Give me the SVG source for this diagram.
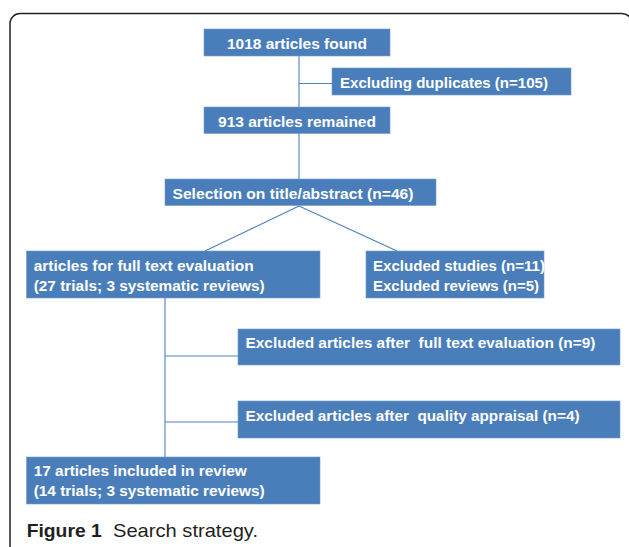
<svg xmlns="http://www.w3.org/2000/svg" width="629" height="547" viewBox="0 0 629 547">
<style>
.box{fill:#4a7ebb;stroke:#6f9bd0;stroke-width:0.6}
.t{font-family:"Liberation Sans",Arial,sans-serif;font-weight:bold;font-size:15.5px;fill:#ffffff;white-space:pre}
.c{stroke:#4f81bd;stroke-width:1.1;fill:none}
.cap{font-family:"Liberation Sans",Arial,sans-serif;font-size:19px;fill:#231f20}
</style>
<rect x="10" y="13.5" width="622" height="560" rx="10" fill="#ffffff" stroke="#222222" stroke-width="1.5"/>
<g id="connectors">
<line class="c" x1="299" y1="56" x2="299" y2="107"/>
<line class="c" x1="299" y1="83.5" x2="332" y2="83.5"/>
<line class="c" x1="299" y1="133" x2="299" y2="179"/>
<line class="c" x1="299" y1="206" x2="205" y2="251"/>
<line class="c" x1="299" y1="206" x2="397" y2="251"/>
<line class="c" x1="165" y1="298" x2="165" y2="457"/>
<line class="c" x1="165" y1="356" x2="238" y2="356"/>
<line class="c" x1="165" y1="422" x2="238" y2="422"/>
</g>
<g id="n1"><rect class="box" x="204" y="29" width="186" height="27"/><text class="t" x="227" y="49" textLength="140" lengthAdjust="spacingAndGlyphs">1018 articles found</text></g>
<g id="n2"><rect class="box" x="332" y="68" width="239" height="27"/><text class="t" x="340" y="88" textLength="208" lengthAdjust="spacingAndGlyphs">Excluding duplicates (n=105)</text></g>
<g id="n3"><rect class="box" x="204" y="107" width="186" height="26.5"/><text class="t" x="218" y="126.5" textLength="158" lengthAdjust="spacingAndGlyphs">913 articles remained</text></g>
<g id="n4"><rect class="box" x="165" y="179" width="271" height="26.5"/><text class="t" x="172.5" y="199" textLength="241" lengthAdjust="spacingAndGlyphs">Selection on title/abstract (n=46)</text></g>
<g id="n5"><rect class="box" x="26.5" y="251" width="293.5" height="47"/><text class="t" x="33.7" y="270.5" textLength="220" lengthAdjust="spacingAndGlyphs">articles for full text evaluation</text><text class="t" x="33.7" y="290.5" textLength="231" lengthAdjust="spacingAndGlyphs">(27 trials; 3 systematic reviews)</text></g>
<g id="n6"><rect class="box" x="366" y="251" width="178" height="47"/><text class="t" x="373" y="270.5" textLength="172" lengthAdjust="spacingAndGlyphs">Excluded studies (n=11)</text><text class="t" x="373" y="290.5" textLength="166" lengthAdjust="spacingAndGlyphs">Excluded reviews (n=5)</text></g>
<g id="n7"><rect class="box" x="238" y="329" width="382" height="36"/><text class="t" x="245.5" y="348" textLength="350" lengthAdjust="spacingAndGlyphs">Excluded articles after  full text evaluation (n=9)</text></g>
<g id="n8"><rect class="box" x="238" y="401" width="382" height="37"/><text class="t" x="245.5" y="421" textLength="334" lengthAdjust="spacingAndGlyphs">Excluded articles after  quality appraisal (n=4)</text></g>
<g id="n9"><rect class="box" x="26.5" y="457" width="293.5" height="47"/><text class="t" x="33.7" y="475.5" textLength="213" lengthAdjust="spacingAndGlyphs">17 articles included in review</text><text class="t" x="33.7" y="496" textLength="231" lengthAdjust="spacingAndGlyphs">(14 trials; 3 systematic reviews)</text></g>
<g id="caption">
<text class="cap" x="26.7" y="537" font-weight="bold" textLength="75" lengthAdjust="spacingAndGlyphs">Figure 1</text>
<text class="cap" x="113" y="537" textLength="145" lengthAdjust="spacingAndGlyphs">Search strategy.</text>
</g>
</svg>
